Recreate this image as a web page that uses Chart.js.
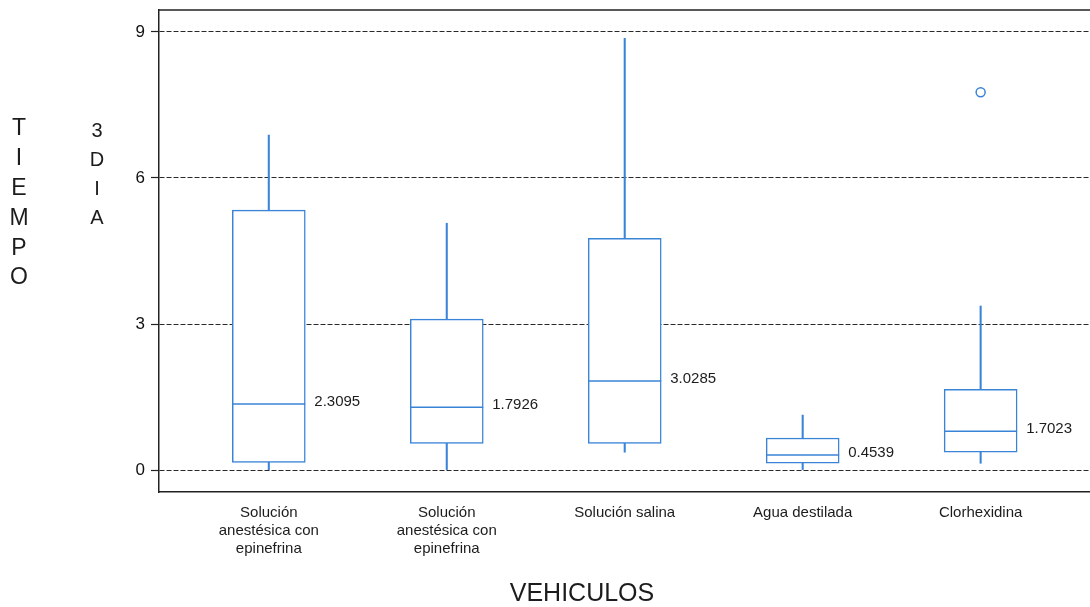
<!DOCTYPE html>
<html>
<head>
<meta charset="utf-8">
<script src="https://cdn.jsdelivr.net/npm/chart.js@4.4.1/dist/chart.umd.min.js"></script>
<style>
  html, body { margin: 0; padding: 0; background: #fff; overflow: hidden; width: 1090px; height: 607px; }
  canvas { display: block; }
</style>
</head>
<body>
<canvas id="grafico" width="1100" height="607"></canvas>
<script>
// Vehículos (categorías del eje X)
const categorias = [
  ["Solución", "anestésica con", "epinefrina"],
  ["Solución", "anestésica con", "epinefrina"],
  "Solución salina",
  "Agua destilada",
  "Clorhexidina"
];
// Resumen de cinco números por vehículo (tiempo, 3 días)
const minimos  = [0.00, 0.00, 0.37, 0.00, 0.14];
const cuartil1 = [0.16, 0.55, 0.55, 0.14, 0.37];
const medianas = [1.36, 1.29, 1.83, 0.31, 0.80];
const cuartil3 = [5.34, 3.10, 4.76, 0.66, 1.66];
const maximos  = [6.88, 5.07, 8.87, 1.13, 3.37];
// Medias rotuladas junto a cada caja
const medias   = [2.3095, 1.7926, 3.0285, 0.4539, 1.7023];
// Valores atípicos: [posición del vehículo, valor]
const atipicosVehiculo = [5];
const atipicosValor    = [7.76];
// Marcas del eje Y
const marcasY = [0, 3, 6, 9];

const AZUL = '#3a84d8';
const FUENTE = '"Liberation Sans", Arial, sans-serif';
const posiciones = categorias.map((_, i) => i + 1);

const cajas = {
  id: 'cajas',
  afterDatasetsDraw(chart) {
    const { ctx, scales: { x, y } } = chart;
    const metaCajas = chart.getDatasetMeta(1);
    ctx.save();
    // líneas de la mediana
    ctx.strokeStyle = AZUL;
    ctx.lineWidth = 1.5;
    medianas.forEach((m, i) => {
      const el = metaCajas.data[i];
      const half = el.width / 2;
      const py = y.getPixelForValue(m);
      ctx.beginPath();
      ctx.moveTo(el.x - half, py);
      ctx.lineTo(el.x + half, py);
      ctx.stroke();
    });
    // rótulos de la media
    ctx.fillStyle = '#1c1c1c';
    ctx.font = '15px ' + FUENTE;
    ctx.textAlign = 'left';
    ctx.textBaseline = 'middle';
    medias.forEach((v, i) => {
      const el = metaCajas.data[i];
      ctx.fillText(v.toFixed(4), el.x + el.width / 2 + 9, y.getPixelForValue(medianas[i]) - 2);
    });
    ctx.restore();
  },
  afterDraw(chart) {
    const { ctx, chartArea: a } = chart;
    ctx.save();
    // borde superior del área de trazado
    ctx.strokeStyle = '#222';
    ctx.lineWidth = 1.5;
    ctx.beginPath();
    ctx.moveTo(a.left, a.top);
    ctx.lineTo(a.right, a.top);
    ctx.stroke();

    ctx.fillStyle = '#1c1c1c';
    ctx.textAlign = 'center';
    ctx.textBaseline = 'middle';
    // título del eje Y, letras apiladas
    ctx.font = '23px ' + FUENTE;
    'TIEMPO'.split('').forEach((c, i) => ctx.fillText(c, 19, 129 + i * 29.8));
    ctx.font = '20px ' + FUENTE;
    '3DIA'.split('').forEach((c, i) => ctx.fillText(c, 97, 131 + i * 29.2));
    // título del eje X
    ctx.font = '25px ' + FUENTE;
    ctx.fillText('VEHICULOS', 582, 594);
    ctx.restore();
  }
};

new Chart(document.getElementById('grafico'), {
  type: 'bar',
  data: {
    datasets: [
      {
        // bigotes (mínimo a máximo), detrás de las cajas
        type: 'bar',
        data: posiciones.map((p, i) => ({ x: p, y: [minimos[i], maximos[i]] })),
        backgroundColor: AZUL,
        borderWidth: 0,
        barThickness: 1.4,
        grouped: false,
        order: 3
      },
      {
        // cajas (cuartil 1 a cuartil 3)
        type: 'bar',
        data: posiciones.map((p, i) => ({ x: p, y: [cuartil1[i], cuartil3[i]] })),
        backgroundColor: '#ffffff',
        borderColor: AZUL,
        borderWidth: 1.5,
        borderSkipped: false,
        barThickness: 73,
        grouped: false,
        order: 2
      },
      {
        type: 'scatter',
        data: atipicosVehiculo.map((p, i) => ({ x: p, y: atipicosValor[i] })),
        pointRadius: 4.5,
        pointBackgroundColor: '#ffffff',
        pointBorderColor: AZUL,
        pointBorderWidth: 1.5,
        order: 1
      }
    ]
  },
  options: {
    responsive: false,
    animation: false,
    layout: { padding: { top: 10, left: 0, right: 0, bottom: 0 } },
    plugins: { legend: { display: false }, tooltip: { enabled: false } },
    scales: {
      x: {
        type: 'linear',
        offset: false,
        min: 0.383,
        max: 5.637,
        afterBuildTicks(scale) { scale.ticks = posiciones.map(v => ({ value: v })); },
        afterFit(scale) { scale.height = 115; scale.paddingLeft = 0; scale.paddingRight = 0; },
        grid: { display: false, drawTicks: false, offset: false },
        border: { display: true, color: '#222', width: 1.5 },
        ticks: {
          autoSkip: false,
          maxRotation: 0,
          padding: 12,
          color: '#1c1c1c',
          font: { family: FUENTE, size: 15, lineHeight: 1.2 },
          callback: (v) => categorias[v - 1] ?? ''
        }
      },
      y: {
        min: -0.45,
        max: 9.45,
        afterBuildTicks(scale) { scale.ticks = marcasY.map(v => ({ value: v })); },
        afterFit(scale) { scale.width = 159; scale.paddingTop = 0; scale.paddingBottom = 0; },
        grid: {
          color: '#2a2a2a',
          lineWidth: 1,
          tickLength: 8,
          tickColor: '#222',
          tickWidth: 1.2,
          tickBorderDash: []
        },
        border: { display: true, color: '#222', width: 1.5, dash: [5, 2] },
        ticks: {
          padding: 6,
          color: '#111',
          font: { family: FUENTE, size: 17 },
          callback: (v) => String(v)
        }
      }
    }
  },
  plugins: [cajas]
});
</script>
</body>
</html>
